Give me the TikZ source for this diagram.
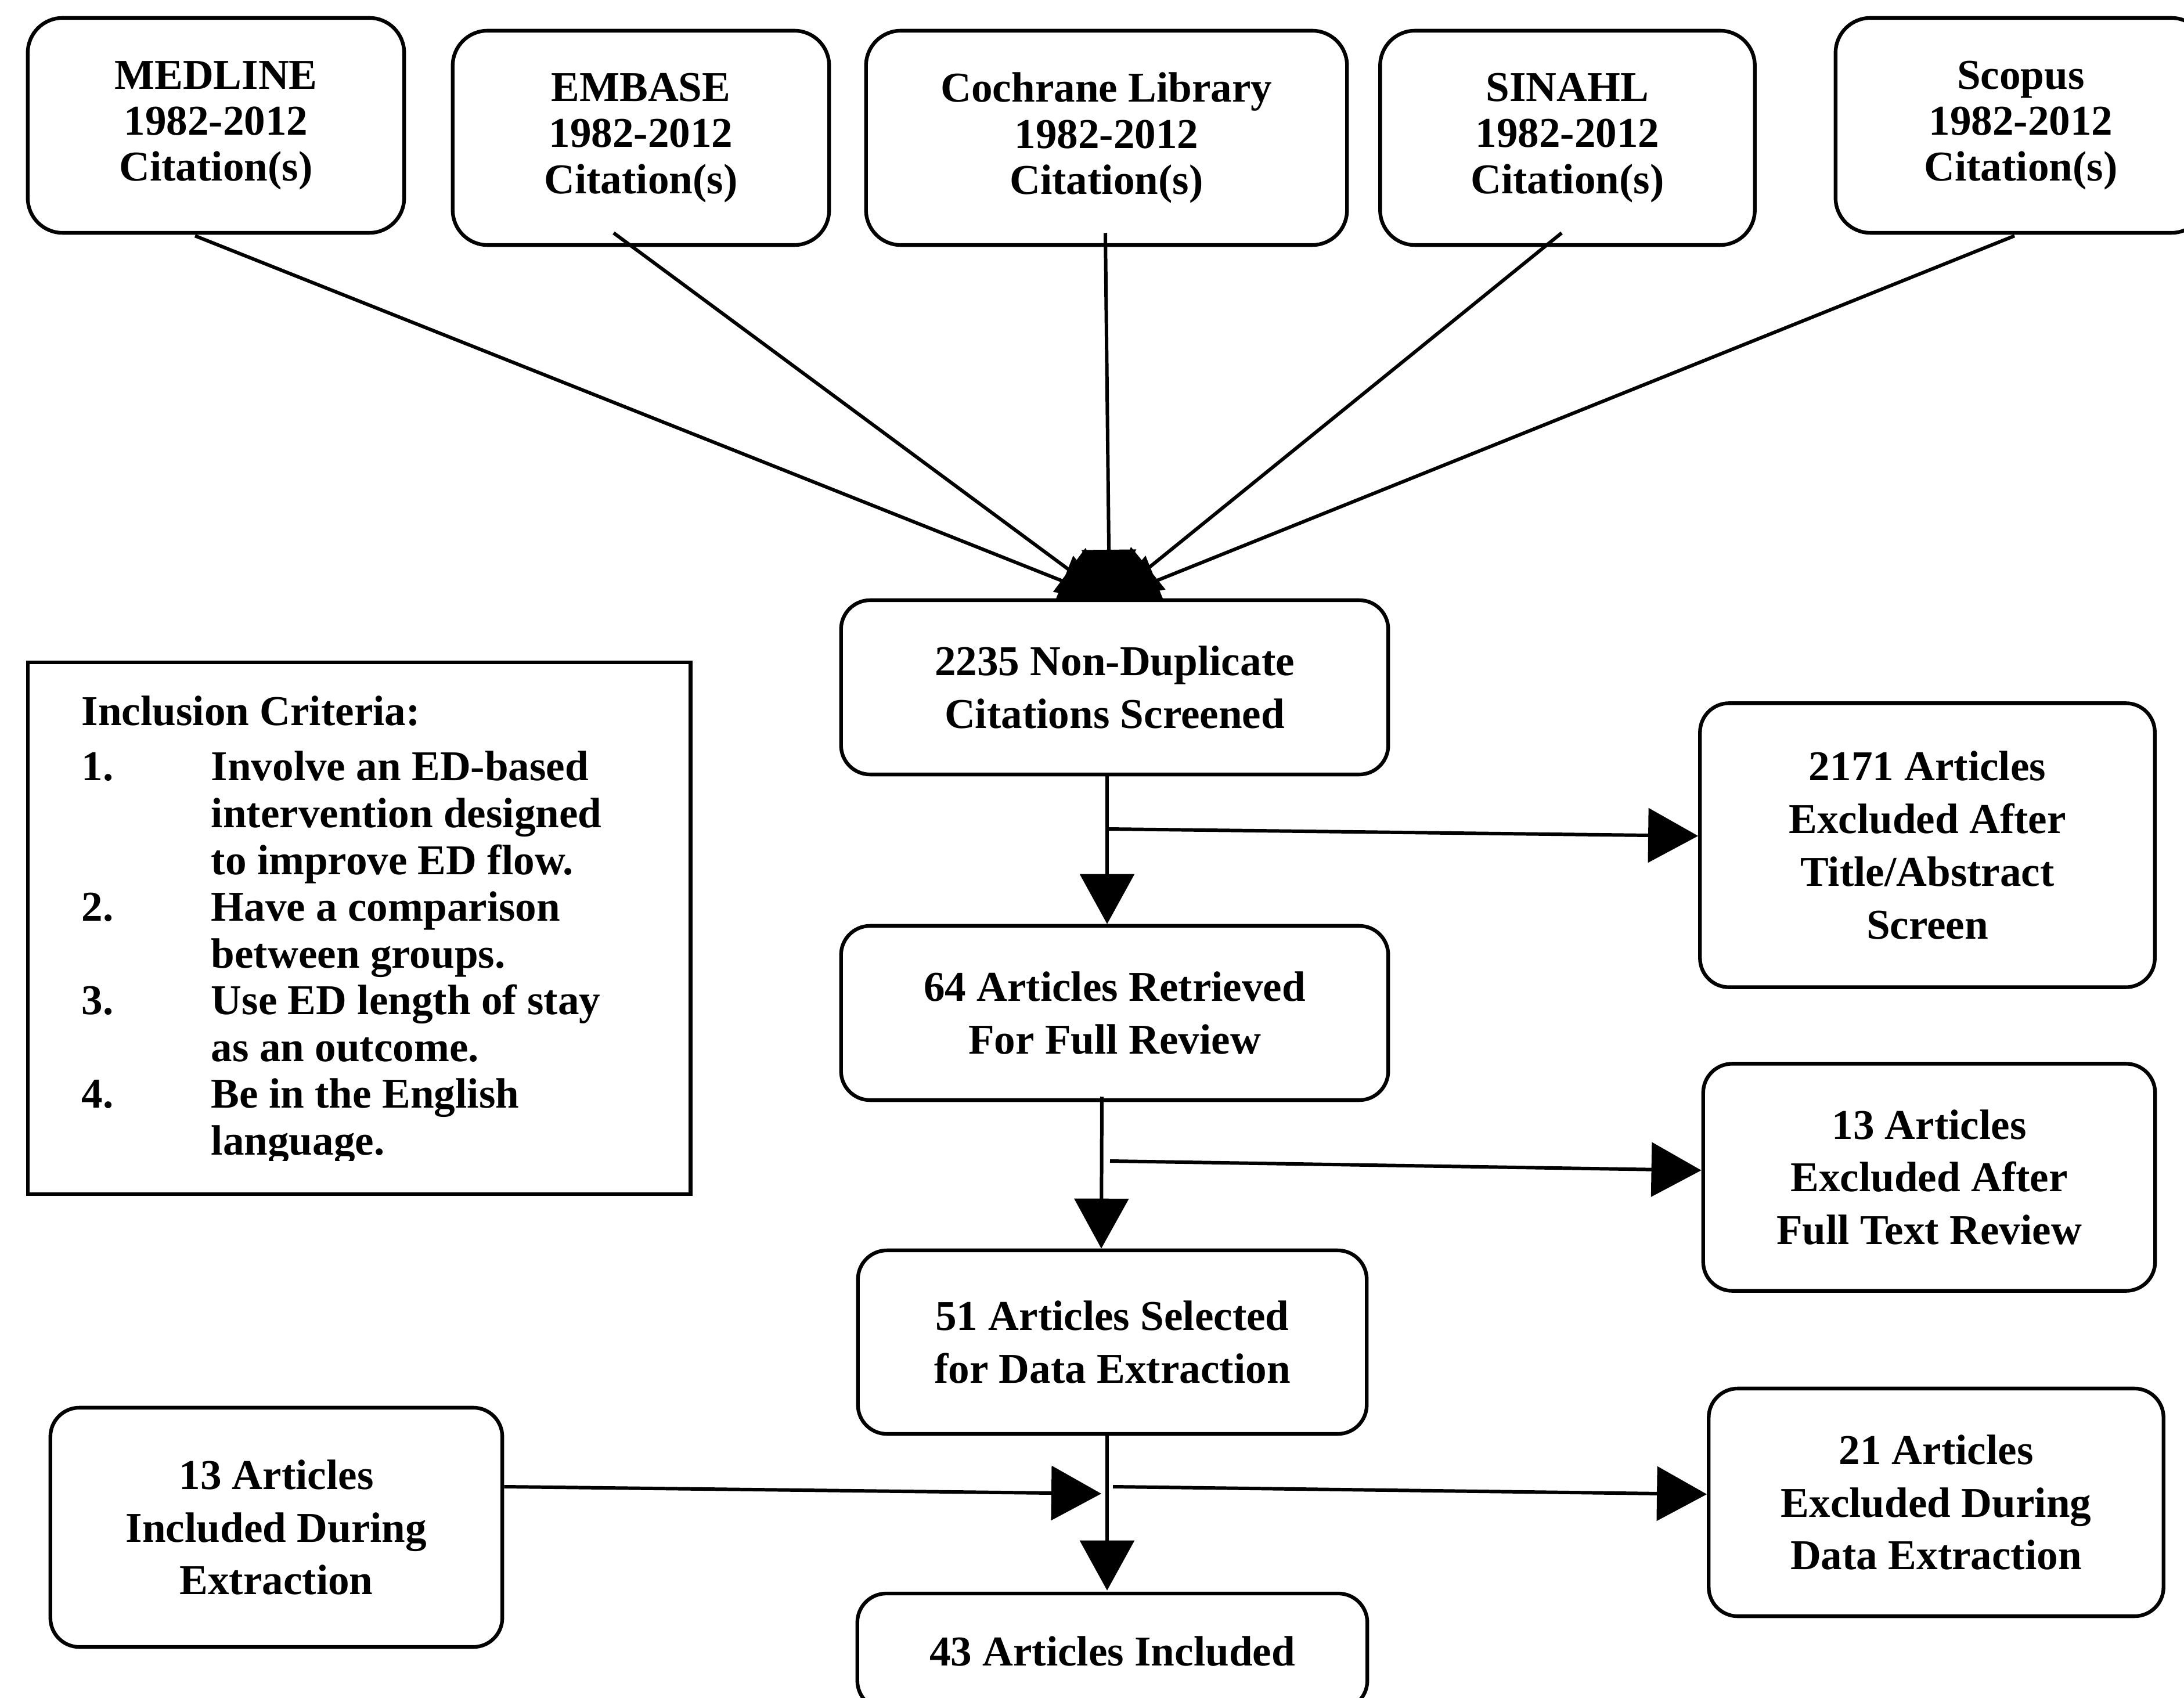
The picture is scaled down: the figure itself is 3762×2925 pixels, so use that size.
\documentclass[tikz,border=0pt]{standalone}
\usepackage{fontspec}
\setmainfont{Liberation Serif}
\usetikzlibrary{arrows.meta,calc}
\tikzset{
  rbox/.style={draw, line width=1.8pt, rounded corners=0.5cm, fill=white, align=center, inner sep=0pt,
    font=\bfseries\fontsize{20.8pt}{25.8pt}\selectfont},
  topbox/.style={rbox, rounded corners=0.6cm, font=\bfseries\fontsize{20.8pt}{22.5pt}\selectfont},
  critbox/.style={draw, line width=1.8pt, fill=white, inner sep=0pt},
  arr/.style={line width=1.7pt, -{Triangle[length=0.86cm,width=0.93cm]}},
}
\begin{document}
\begin{tikzpicture}[x=0.01cm,y=-0.01cm]
\useasboundingbox (0,0) rectangle (3762,2925);

% source databases
\node[topbox, minimum width=6.48cm, minimum height=3.70cm] (medline) at (372,216) {MEDLINE\\1982-2012\\Citation(s)};
\node[topbox, minimum width=6.48cm, minimum height=3.69cm] (embase) at (1104,237.5) {EMBASE\\1982-2012\\Citation(s)};
\node[topbox, minimum width=8.28cm, minimum height=3.69cm] (cochrane) at (1906,237.5) {Cochrane Library\\1982-2012\\Citation(s)};
\node[topbox, minimum width=6.45cm, minimum height=3.69cm] (sinahl) at (2700,237.5) {SINAHL\\1982-2012\\Citation(s)};
\node[topbox, minimum width=6.38cm, minimum height=3.70cm] (scopus) at (3481,216) {Scopus\\1982-2012\\Citation(s)};

% fan-in connectors
\coordinate (hub) at (1911,1033);
\draw[arr] ($(medline.south)+(-36,2)$) -- (hub);
\draw[arr] ($(embase.south)+(-47,-24)$) -- (hub);
\draw[arr] ($(cochrane.south)+(-2,-24)$) -- (hub);
\draw[arr] ($(sinahl.south)+(-10,-24)$) -- (hub);
\draw[arr] ($(scopus.south)+(-11,2)$) -- (hub);

% main column
\node[rbox, minimum width=9.42cm, minimum height=3.00cm] (screened) at (1920,1184) {2235 Non-Duplicate\\Citations Screened};
\node[rbox, minimum width=9.42cm, minimum height=3.00cm] (retrieved) at (1920,1745) {64 Articles Retrieved\\For Full Review};
\node[rbox, minimum width=8.76cm, minimum height=3.16cm] (selected) at (1916,2312) {51 Articles Selected\\for Data Extraction};
\node[rbox, minimum width=8.78cm, minimum height=2.00cm] (included) at (1916,2845) {43 Articles Included};

% exclusion boxes
\node[rbox, minimum width=7.83cm, minimum height=4.89cm] (exclA) at (3320,1456) {2171 Articles\\Excluded After\\Title/Abstract\\Screen};
\node[rbox, minimum width=7.78cm, minimum height=3.91cm] (exclB) at (3323,2028) {13 Articles\\Excluded After\\Full Text Review};
\node[rbox, minimum width=7.83cm, minimum height=3.92cm] (exclC) at (3335,2588) {21 Articles\\Excluded During\\Data Extraction};

% left boxes
\node[rbox, minimum width=7.78cm, minimum height=4.12cm] (inclA) at (476,2631) {13 Articles\\Included During\\Extraction};
\node[critbox, minimum width=11.41cm, minimum height=9.16cm] (crit) at (618.5,1599) {};
\begin{scope}
\clip (48,1141) rectangle (1189,1999);
\node[anchor=base west, inner sep=0pt, font=\bfseries\fontsize{20.8pt}{22.9pt}\selectfont] (crittext) at (140,1250) {%
\begin{tabular}[t]{@{}p{2.23cm}@{}l@{}}
\multicolumn{2}{@{}l}{Inclusion Criteria:}\\[4.1pt]
1. & Involve an ED-based\\
   & intervention designed\\
   & to improve ED flow.\\
2. & Have a comparison\\
   & between groups.\\
3. & Use ED length of stay\\
   & as an outcome.\\
4. & Be in the English\\
   & language.
\end{tabular}};
\end{scope}

% flow connectors
\draw[arr] ($(screened.south)+(-13,0)$) -- ($(retrieved.north)+(-13,0)$);
\coordinate (b1) at (1907,1428);
\draw[arr] (b1) -- ($(exclA.west)+(0,-16)$);

\draw[arr] ($(retrieved.south)+(-22,-9)$) -- ($(selected.north)+(-19,0)$);
\coordinate (b2) at (1912,2000);
\draw[arr] (b2) -- ($(exclB.west)+(0,-12)$);

\draw[arr] ($(selected.south)+(-9,0)$) -- ($(included.north)+(-9,-2)$);
\coordinate (join) at (1897,2573);
\draw[arr] ($(inclA.east)+(0,-70)$) -- (join);
\coordinate (b3) at (1917,2561);
\draw[arr] (b3) -- ($(exclC.west)+(0,-14)$);
\end{tikzpicture}
\end{document}
